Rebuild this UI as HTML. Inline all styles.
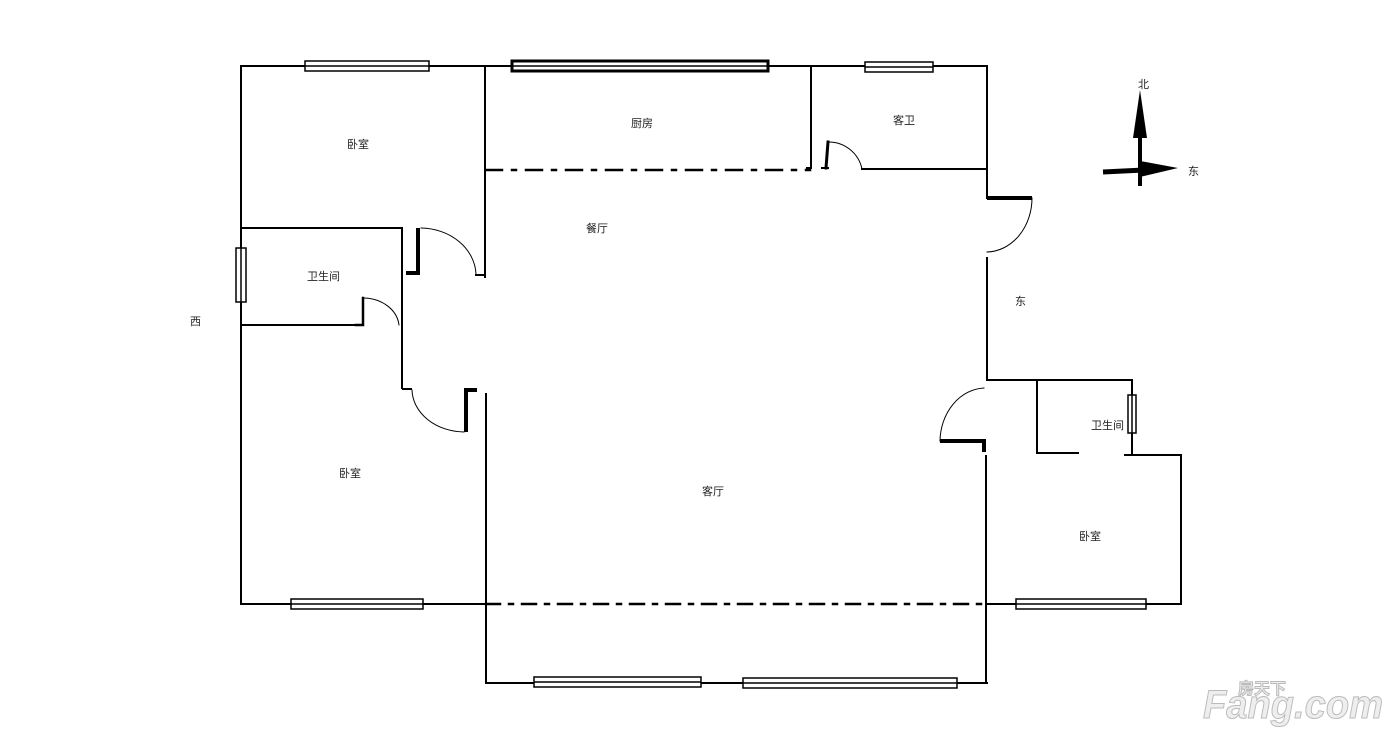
<!DOCTYPE html>
<html><head><meta charset="utf-8"><style>
html,body{margin:0;padding:0;background:#fff;}
svg{display:block;}
text{font-family:"Liberation Sans","Noto Sans CJK SC",sans-serif;font-size:11px;fill:#222;}
</style></head><body>
<svg width="1400" height="742" viewBox="0 0 1400 742" xmlns="http://www.w3.org/2000/svg">
<g stroke="#000" stroke-width="2" fill="none" stroke-linecap="square">
<path d="M241 66 H987"/>
<path d="M241 66 V604"/>
<path d="M241 604 H486"/>
<path d="M486 604 H987" stroke-dasharray="14 9 4 9" stroke-width="2.5"/>
<path d="M485 66 V277"/>
<path d="M486 170 H810" stroke-dasharray="16 10 4 10" stroke-width="2.5"/>
<path d="M811 66 V168"/>
<path d="M807 168 H811"/>
<path d="M862 169 H987"/>
<path d="M828 142 L826 168" stroke-width="3"/>
<path d="M822 168 H828"/>
<path d="M828 142 A34 34 0 0 1 862 169" stroke-width="1"/>
<path d="M987 66 V198"/>
<path d="M987 198 H1032" stroke-width="4" stroke-linecap="butt"/>
<path d="M1032 198 A46 54 0 0 1 987 252" stroke-width="1"/>
<path d="M987 258 V380"/>
<path d="M987 380 H1132"/>
<path d="M1132 380 V455"/>
<path d="M1037 381 V453 H1078"/>
<path d="M1125 455 H1181 V604"/>
<path d="M987 604 H1181"/>
<path d="M940 441 H984 V452" stroke-width="4" stroke-linecap="butt"/>
<path d="M940 441 A46 54 0 0 1 984 388" stroke-width="1"/>
<path d="M986 456 V683"/>
<path d="M486 604 V683 H987"/>
<path d="M241 228 H402 V388"/>
<path d="M241 325 H356"/>
<path d="M363 298 V325 H356" stroke-width="2.5"/>
<path d="M363 298 A36 30 0 0 1 399 325" stroke-width="1"/>
<path d="M418 228 V273 H406" stroke-width="4" stroke-linecap="butt"/>
<path d="M421 228 A56 48 0 0 1 476 274" stroke-width="1"/>
<path d="M476 275 H485"/>
<path d="M403 389 H411"/>
<path d="M412 390 A53 43 0 0 0 464 432" stroke-width="1"/>
<path d="M466 432 V390 H477" stroke-width="4" stroke-linecap="butt"/>
<path d="M486 394 V604"/>
</g>
<g stroke="#000" stroke-width="1.5" fill="#fff">
<rect x="305" y="61" width="124" height="10"/><line x1="305" y1="66" x2="429" y2="66"/>
<rect x="512" y="61" width="256" height="10" stroke-width="3"/><line x1="512" y1="66" x2="768" y2="66"/>
<rect x="865" y="62" width="68" height="10"/><line x1="865" y1="67" x2="933" y2="67"/>
<rect x="236" y="248" width="10" height="54"/><line x1="241" y1="248" x2="241" y2="302"/>
<rect x="291" y="599" width="132" height="10"/><line x1="291" y1="604" x2="423" y2="604"/>
<rect x="1016" y="599" width="130" height="10"/><line x1="1016" y1="604" x2="1146" y2="604"/>
<rect x="534" y="677" width="167" height="10"/><line x1="534" y1="682" x2="701" y2="682"/>
<rect x="743" y="678" width="214" height="10"/><line x1="743" y1="683" x2="957" y2="683"/>
<rect x="1128" y="395" width="8" height="38"/><line x1="1132" y1="395" x2="1132" y2="433"/>
</g>
<g fill="#000" stroke="#000">
<line x1="1140" y1="110" x2="1140" y2="186" stroke-width="4"/>
<polygon points="1140,90 1133,138 1147,138" stroke="none"/>
<line x1="1103" y1="172" x2="1145" y2="170" stroke-width="5"/>
<polygon points="1178,168 1140,161 1140,177" stroke="none"/>
</g>
<text x="1138" y="88">北</text>
<text x="1188" y="175">东</text>
<text x="347" y="148">卧室</text>
<text x="631" y="127">厨房</text>
<text x="893" y="124">客卫</text>
<text x="586" y="232">餐厅</text>
<text x="307" y="280">卫生间</text>
<text x="190" y="325">西</text>
<text x="1015" y="305">东</text>
<text x="339" y="477">卧室</text>
<text x="702" y="495">客厅</text>
<text x="1091" y="429">卫生间</text>
<text x="1079" y="540">卧室</text>
<g font-weight="bold" stroke="#bbb" stroke-width="1">
<text x="1203" y="718" textLength="180" lengthAdjust="spacingAndGlyphs" style="font-size:40px;font-style:italic;fill:#eee;font-family:'Liberation Sans',sans-serif;">Fang.com</text>
<text x="1238" y="694" style="font-size:16px;fill:#eee;font-family:'Noto Sans CJK SC',sans-serif;">房天下</text>
</g>
</svg>
</body></html>
